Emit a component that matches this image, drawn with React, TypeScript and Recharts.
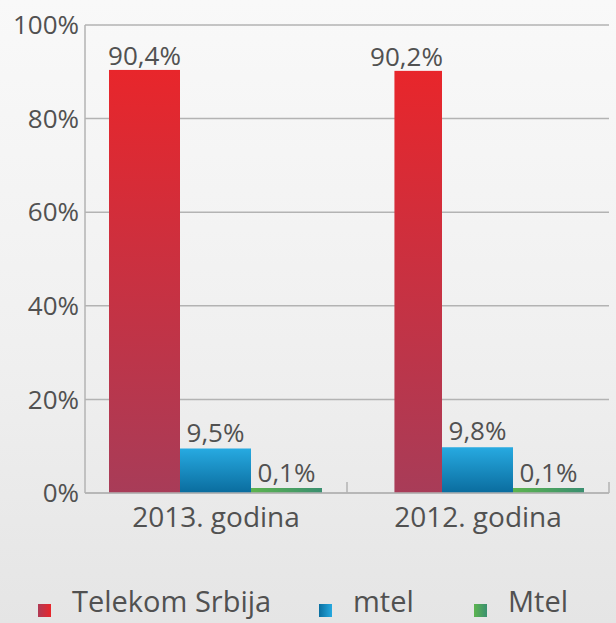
import React from 'react';
import { BarChart, Bar, XAxis, YAxis, CartesianGrid, LabelList } from 'recharts';

const categories = ['2013. godina', '2012. godina'];
const telekomSrbija = [90.4, 90.2];
const mtelSrb = [9.5, 9.8];
const mtelCg = [0.1, 0.1];
const yTicks = [0, 20, 40, 60, 80, 100];
const seriesNames = ['Telekom Srbija', 'mtel', 'Mtel'];

const data = categories.map((name, i) => ({
  name,
  telekom: telekomSrbija[i],
  mtel: mtelSrb[i],
  mtelCg: mtelCg[i],
}));

const FONT = '"Open Sans", "Noto Sans", sans-serif';
const TEXT = '#515151';
const LINE = '#b3b3b3';

const fmt = (v: any) => `${Number(v).toFixed(1).replace('.', ',')}%`;

const XTick = (props: any) => {
  const { x, y, payload } = props;
  const half = payload && payload.offset ? payload.offset : 131;
  return (
    <g>
      <line x1={x + half} x2={x + half} y1={y - 11} y2={y} stroke={LINE} strokeWidth={1.5} />
      <text x={x} y={y + 34} textAnchor="middle" fill={TEXT} fontSize={28} fontFamily={FONT}>
        {payload.value}
      </text>
    </g>
  );
};

// the 2012 Telekom bar is partly hidden in the original
const TelekomShape = (props: any) => {
  const { x, y, width, height, index } = props;
  const cut = index === 1 ? width * 0.33 : 0;
  return <rect x={x + cut} y={y} width={width - cut} height={height} fill="url(#gRed)" />;
};

const legendItems = [
  { name: seriesNames[0], swatch: 'linear-gradient(90deg, #b03a55, #e8262b)', w: 281 },
  { name: seriesNames[1], swatch: 'linear-gradient(90deg, #0a6fa0, #26a9e0)', w: 155 },
  { name: seriesNames[2], swatch: 'linear-gradient(90deg, #5db44f, #3a9070)', w: 110 },
];

export default function App() {
  return (
    <div
      style={{
        position: 'absolute',
        left: 0,
        top: 0,
        width: 616,
        height: 623,
        overflow: 'hidden',
        background: 'linear-gradient(180deg, #f9f9f9 0%, #f0f0f0 55%, #e5e5e5 100%)',
        fontFamily: FONT,
      }}
    >
      <BarChart
        width={616}
        height={623}
        data={data}
        margin={{ top: 25, right: 7, left: 0, bottom: 90 }}
        barCategoryGap={24}
        barGap={0}
      >
        <defs>
          <linearGradient id="gRed" x1="0" y1="0" x2="0" y2="1">
            <stop offset="0%" stopColor="#e8262b" />
            <stop offset="100%" stopColor="#a83c58" />
          </linearGradient>
          <linearGradient id="gBlue" x1="0" y1="0" x2="0" y2="1">
            <stop offset="0%" stopColor="#27aae1" />
            <stop offset="100%" stopColor="#0a6c9e" />
          </linearGradient>
          <linearGradient id="gGreen" x1="0" y1="0" x2="1" y2="0">
            <stop offset="0%" stopColor="#5db44f" />
            <stop offset="100%" stopColor="#3a8f70" />
          </linearGradient>
        </defs>
        <CartesianGrid vertical={false} stroke={LINE} strokeWidth={1.5} />
        <XAxis
          dataKey="name"
          height={40}
          axisLine={{ stroke: LINE, strokeWidth: 1.5 }}
          tickLine={false}
          tickSize={0}
          tickMargin={0}
          tick={<XTick />}
          interval={0}
        />
        <YAxis
          type="number"
          domain={[0, 100]}
          ticks={yTicks}
          width={85}
          axisLine={{ stroke: LINE, strokeWidth: 1.5 }}
          tickLine={false}
          tickSize={0}
          tickMargin={6}
          tickFormatter={(v) => `${v}%`}
          tick={{ fill: TEXT, fontSize: 26, fontFamily: FONT }}
        />
        <Bar dataKey="telekom" name={seriesNames[0]} shape={<TelekomShape />} isAnimationActive={false}>
          <LabelList dataKey="telekom" position="top" offset={5} formatter={fmt} fill={TEXT} fontSize={26} fontFamily={FONT} />
        </Bar>
        <Bar dataKey="mtel" name={seriesNames[1]} fill="url(#gBlue)" isAnimationActive={false}>
          <LabelList dataKey="mtel" position="top" offset={7} formatter={fmt} fill={TEXT} fontSize={26} fontFamily={FONT} />
        </Bar>
        <Bar dataKey="mtelCg" name={seriesNames[2]} fill="url(#gGreen)" minPointSize={5} isAnimationActive={false}>
          <LabelList dataKey="mtelCg" position="top" offset={6} formatter={fmt} fill={TEXT} fontSize={26} fontFamily={FONT} />
        </Bar>
      </BarChart>
      <div style={{ position: 'absolute', left: 38, top: 586, display: 'flex', fontSize: 29, lineHeight: '29px', color: TEXT }}>
        {legendItems.map((it) => (
          <div key={it.name} style={{ display: 'flex', alignItems: 'flex-start', width: it.w }}>
            <span style={{ width: 13, height: 13, marginTop: 18, marginRight: 21, flexShrink: 0, background: it.swatch }} />
            <span style={{ whiteSpace: 'nowrap' }}>{it.name}</span>
          </div>
        ))}
      </div>
    </div>
  );
}
